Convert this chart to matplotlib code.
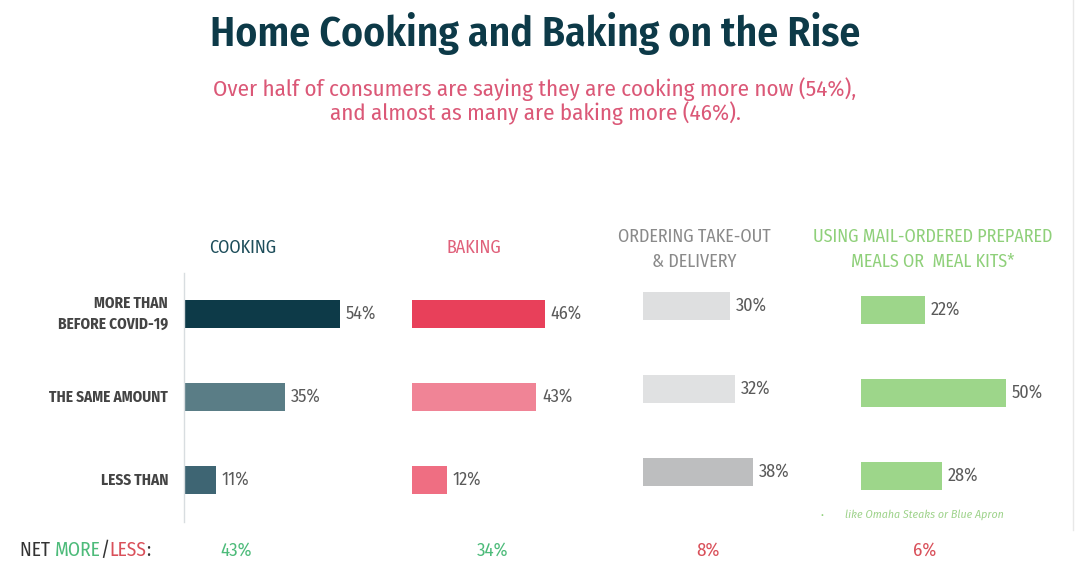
import matplotlib
matplotlib.use("Agg")
import matplotlib.pyplot as plt
from matplotlib import font_manager
from matplotlib.lines import Line2D

# data
rows = ["MORE THAN\nBEFORE COVID-19", "THE SAME AMOUNT", "LESS THAN"]
panels = ["COOKING", "BAKING", "ORDERING TAKE-OUT\n& DELIVERY",
          "USING MAIL-ORDERED PREPARED\nMEALS OR  MEAL KITS*"]
cooking = [54, 35, 11]
baking = [46, 43, 12]
takeout = [30, 32, 38]
mealkits = [22, 50, 28]
net_values = ["43%", "34%", "8%", "6%"]

# condensed font if installed
names = {f.name for f in font_manager.fontManager.ttflist}
NARROW = next((n for n in ["Fira Sans Condensed", "Roboto Condensed", "Asap Condensed"] if n in names),
              "DejaVu Sans")
plt.rcParams['font.family'] = [NARROW, 'DejaVu Sans']

W, H = 1080, 572
fig = plt.figure(figsize=(W / 100, H / 100), dpi=100)
fig.patch.set_facecolor('white')

def fx(px):
    return px / W

def fy(py):
    return 1 - py / H

# title + subtitle
fig.text(fx(535), fy(34), "Home Cooking and Baking on the Rise", ha='center', va='center',
         fontsize=30, fontweight='semibold', color='#0d3a48')
fig.text(fx(535), fy(101), "Over half of consumers are saying they are cooking more now (54%),\n"
         "and almost as many are baking more (46%).", ha='center', va='center',
         fontsize=16.5, fontweight='normal', color='#db5877', linespacing=1.05)

# panel settings: values, left edge px, first row centre px, bar colours, header colour, header pos
panel_cfg = [
    (cooking, 184, 314, ['#0d3a48', '#5a7d86', '#3e6573'], '#1d4d5a', 243, 248),
    (baking, 412, 314, ['#e8405a', '#f08496', '#ef6e82'], '#e0607a', 474, 248),
    (takeout, 643, 306, ['#dedfe0', '#e0e1e2', '#bdbebf'], '#8a8a8a', 694, 249),
    (mealkits, 861, 310, ['#9dd68a', '#9dd68a', '#9dd68a'], '#8fd07a', 933, 249),
]
pitch = 83
px_per_pct = 2.89

for i, (vals, left, c0, cols, hcol, hx, hy) in enumerate(panel_cfg):
    top = c0 - pitch / 2
    ax = fig.add_axes([fx(left), fy(top + 3 * pitch), 100 * px_per_pct / W, 3 * pitch / H])
    ax.barh(range(3), vals, height=0.34, color=cols)
    ax.set_xlim(0, 100)
    ax.set_ylim(2.5, -0.5)
    ax.set_xticks([])
    ax.set_yticks([])
    for s in ax.spines.values():
        s.set_visible(False)
    ax.patch.set_alpha(0)
    if i == 0:
        ax.spines['left'].set_visible(True)
        ax.spines['left'].set_color('#d8dde0')
        ax.spines['left'].set_linewidth(1)
        for j, lab in enumerate(rows):
            ax.text(-5.5, j, lab, ha='right', va='center', fontsize=11, fontweight='bold',
                    color='#444444', linespacing=1.4)
    for j, v in enumerate(vals):
        ax.text(v + 2.0, j, f"{v}%", ha='left', va='center', fontsize=13, fontweight='normal',
                color='#5a5a5a')
    fig.text(fx(hx), fy(hy), panels[i], ha='center', va='center', fontsize=13,
             fontweight='normal', color=hcol, linespacing=1.5)

# footnote
fig.text(fx(822), fy(515), "\u2022", ha='center', va='center', fontsize=7, color='#8fd07a')
fig.text(fx(845), fy(515), "like Omaha Steaks or Blue Apron", ha='left', va='center',
         fontsize=8.5, style='italic', color='#9fd38c')

# net row
parts = [("NET ", '#333333'), ("MORE", '#4dbb7a'), ("/", '#333333'),
         ("LESS", '#d9505a'), (":", '#333333')]
x = fx(20)
fig.canvas.draw()
renderer = fig.canvas.get_renderer()
for txt, c in parts:
    t = fig.text(x, fy(550), txt, ha='left', va='center', fontsize=14, color=c)
    bb = t.get_window_extent(renderer)
    x += bb.width / W
net_x = [236, 493, 708, 925]
net_cols = ['#4dbb7a', '#4dbb7a', '#d9505a', '#d9505a']
for nx, nv, nc in zip(net_x, net_values, net_cols):
    fig.text(fx(nx), fy(550), nv, ha='center', va='center', fontsize=13.5, color=nc)

# faint right border
fig.add_artist(Line2D([fx(1073), fx(1073)], [fy(0), fy(530)], color='#e8e8e8', lw=1))

fig.savefig("out.png", dpi=100, facecolor='white')
